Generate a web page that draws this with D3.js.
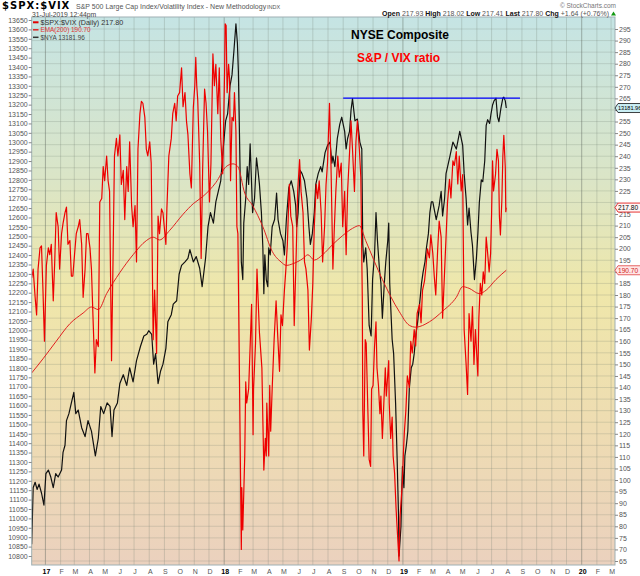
<!DOCTYPE html>
<html>
<head>
<meta charset="utf-8">
<script src="https://cdn.jsdelivr.net/npm/d3@7"></script>
<style>
  body { margin: 0; background: #fff; }
  svg text { font-family: "Liberation Sans", Arial, sans-serif; }
</style>
</head>
<body>
<svg id="chart" width="640" height="576"></svg>
<script>
// $NYA close
const nyaData = [
  ["2016-12-04",10863],["2016-12-07",11163],["2016-12-11",11192],["2016-12-15",11154],["2016-12-19",11182],["2016-12-24",11135],["2016-12-29",11070],
  ["2017-01-02",11238],["2017-01-07",11257],["2017-01-12",11220],["2017-01-17",11163],["2017-01-22",11238],["2017-01-27",11220],
  ["2017-02-03",11257],["2017-02-06",11351],["2017-02-10",11389],["2017-02-13",11520],["2017-02-18",11557],["2017-02-23",11614],["2017-02-28",11670],
  ["2017-03-04",11557],["2017-03-09",11576],["2017-03-16",11482],["2017-03-23",11435],["2017-03-29",11520],
  ["2017-04-05",11464],["2017-04-13",11332],["2017-04-19",11426],["2017-04-24",11595],["2017-04-30",11557],
  ["2017-05-07",11614],["2017-05-13",11595],["2017-05-17",11435],["2017-05-21",11576],["2017-05-28",11614],
  ["2017-06-02",11717],["2017-06-09",11764],["2017-06-16",11707],["2017-06-22",11801],["2017-06-29",11726],
  ["2017-07-06",11839],["2017-07-14",11914],["2017-07-21",11970],["2017-07-27",11979],["2017-07-31",11998],
  ["2017-08-06",11979],["2017-08-10",11820],["2017-08-14",11876],["2017-08-19",11717],["2017-08-24",11782],["2017-08-29",11820],
  ["2017-09-04",11904],["2017-09-08",12045],["2017-09-15",12083],["2017-09-19",12139],["2017-09-26",12157],
  ["2017-10-01",12298],["2017-10-06",12345],["2017-10-13",12364],["2017-10-19",12383],["2017-10-23",12429],["2017-10-30",12364],
  ["2017-11-05",12392],["2017-11-12",12330],["2017-11-17",12232],["2017-11-24",12383],["2017-11-29",12551],
  ["2017-12-04",12626],["2017-12-10",12570],["2017-12-15",12683],["2017-12-20",12739],["2017-12-25",12795],["2017-12-30",12964],
  ["2018-01-04",13114],["2018-01-08",13151],["2018-01-13",13301],["2018-01-17",13358],["2018-01-21",13489],["2018-01-25",13630],["2018-01-28",13527],["2018-01-30",13377],
  ["2018-02-03",12776],["2018-02-05",12364],["2018-02-08",12270],["2018-02-10",12570],["2018-02-14",12701],["2018-02-17",12870],["2018-02-20",12776],["2018-02-23",12992],["2018-02-26",12776],["2018-02-28",12626],
  ["2018-03-04",12701],["2018-03-08",12917],["2018-03-11",12851],["2018-03-14",12776],["2018-03-18",12626],["2018-03-21",12439],["2018-03-23",12195],["2018-03-25",12401],["2018-03-28",12270],["2018-03-31",12232],
  ["2018-04-02",12439],["2018-04-05",12401],["2018-04-09",12551],["2018-04-14",12589],["2018-04-18",12730],["2018-04-21",12589],["2018-04-26",12514],
  ["2018-05-01",12476],["2018-05-04",12401],["2018-05-08",12589],["2018-05-13",12758],["2018-05-18",12795],["2018-05-23",12739],["2018-05-27",12664],["2018-05-29",12551],
  ["2018-06-01",12626],["2018-06-05",12851],["2018-06-09",12833],["2018-06-14",12795],["2018-06-19",12701],["2018-06-23",12551],["2018-06-26",12457],["2018-06-30",12514],
  ["2018-07-04",12626],["2018-07-07",12776],["2018-07-12",12833],["2018-07-17",12870],["2018-07-20",12842],["2018-07-26",12945],["2018-07-31",12983],
  ["2018-08-05",13001],["2018-08-09",12889],["2018-08-11",12926],["2018-08-15",12870],["2018-08-20",13020],["2018-08-25",13095],["2018-08-29",13133],
  ["2018-09-04",13058],["2018-09-07",12964],["2018-09-10",13020],["2018-09-14",13058],["2018-09-17",13170],["2018-09-20",13232],["2018-09-25",13114],["2018-09-30",13123],
  ["2018-10-05",13001],["2018-10-09",12964],["2018-10-11",12458],["2018-10-13",12364],["2018-10-17",12439],["2018-10-20",12326],["2018-10-24",12026],["2018-10-28",11970],["2018-10-31",12270],
  ["2018-11-04",12401],["2018-11-07",12626],["2018-11-10",12476],["2018-11-14",12326],["2018-11-17",12251],["2018-11-20",12064],["2018-11-24",12251],["2018-11-27",12364],
  ["2018-12-01",12476],["2018-12-03",12570],["2018-12-05",12251],["2018-12-10",11951],["2018-12-13",11876],["2018-12-17",11614],["2018-12-20",11332],["2018-12-23",11014],["2018-12-24",10800],["2018-12-28",10957],["2018-12-30",11182],["2018-12-31",11276],
  ["2019-01-03",11163],["2019-01-05",11332],["2019-01-08",11389],["2019-01-11",11464],["2019-01-14",11689],["2019-01-18",11801],["2019-01-21",11820],["2019-01-24",11876],["2019-01-28",11989],["2019-01-31",12045],
  ["2019-02-04",12139],["2019-02-08",12251],["2019-02-11",12307],["2019-02-15",12364],["2019-02-18",12439],["2019-02-22",12514],["2019-02-25",12626],["2019-02-28",12683],
  ["2019-03-03",12683],["2019-03-10",12589],["2019-03-16",12664],["2019-03-20",12739],["2019-03-23",12608],["2019-03-27",12700],["2019-03-30",12833],
  ["2019-04-07",12926],["2019-04-13",13001],["2019-04-20",12964],["2019-04-27",13058],
  ["2019-05-03",12983],["2019-05-06",12833],["2019-05-10",12700],["2019-05-13",12560],["2019-05-16",12650],["2019-05-20",12520],["2019-05-23",12450],["2019-05-27",12270],["2019-05-31",12383],
  ["2019-06-03",12514],["2019-06-06",12680],["2019-06-10",12800],["2019-06-13",12790],["2019-06-17",12900],["2019-06-20",13090],["2019-06-23",13120],["2019-06-27",13100],["2019-06-30",13154],
  ["2019-07-03",13198],["2019-07-06",13220],["2019-07-10",13234],["2019-07-13",13136],["2019-07-16",13109],["2019-07-20",13180],["2019-07-24",13234],["2019-07-26",13240],["2019-07-29",13220],["2019-07-31",13181.96]
]

// $SPX:$VIX daily ratio, right axis
const ratioData = [
  ["2016-12-04",187.4],["2016-12-07",191.2],["2016-12-11",179],["2016-12-14",171.4],["2016-12-17",191.2],["2016-12-21",200.4],["2016-12-24",201.2],["2016-12-27",182.1],["2016-12-30",160],
  ["2017-01-03",192.8],["2017-01-07",200.4],["2017-01-10",197.4],["2017-01-13",201.9],["2017-01-17",177.5],["2017-01-20",194.3],["2017-01-23",215.6],["2017-01-27",209.5],["2017-01-30",191.2],
  ["2017-02-03",206.5],["2017-02-06",211],["2017-02-10",215.6],["2017-02-13",218],["2017-02-16",201.9],["2017-02-20",203.5],["2017-02-23",188.2],["2017-02-26",188.2],
  ["2017-03-02",198.9],["2017-03-05",206.5],["2017-03-09",209.5],["2017-03-12",212.6],["2017-03-16",201.9],["2017-03-19",179],["2017-03-23",191.2],["2017-03-26",206.5],["2017-03-29",206.5],
  ["2017-04-02",200.4],["2017-04-05",191.2],["2017-04-08",171.4],["2017-04-12",146.3],["2017-04-15",160.7],["2017-04-19",157.7],["2017-04-22",220.2],["2017-04-26",221.7],["2017-04-29",235.5],
  ["2017-05-02",229.4],["2017-05-06",240.1],["2017-05-09",229.4],["2017-05-12",224.8],["2017-05-16",151.6],["2017-05-19",194.3],["2017-05-22",240.1],["2017-05-26",247.7],["2017-05-29",240.1],
  ["2017-06-02",249.2],["2017-06-05",227.8],["2017-06-09",233.9],["2017-06-12",212.6],["2017-06-16",235.5],["2017-06-19",224.8],["2017-06-22",246.2],["2017-06-26",218.7],["2017-06-29",209.5],
  ["2017-07-03",218.7],["2017-07-06",194.3],["2017-07-09",243.1],["2017-07-13",258.4],["2017-07-16",263.7],["2017-07-19",262.9],["2017-07-23",256.8],["2017-07-26",243.1],["2017-07-29",240.1],
  ["2017-08-02",246.2],["2017-08-05",237],["2017-08-09",160.7],["2017-08-12",182.1],["2017-08-16",154.7],["2017-08-19",214.1],["2017-08-22",206.5],["2017-08-26",217.2],["2017-08-29",215.6],
  ["2017-09-02",206.5],["2017-09-04",201.9],["2017-09-06",217.2],["2017-09-10",240.1],["2017-09-15",247.7],["2017-09-18",258.4],["2017-09-22",262.9],["2017-09-25",255.3],["2017-09-28",266],
  ["2017-10-02",267.5],["2017-10-06",278.2],["2017-10-09",261.4],["2017-10-13",267.5],["2017-10-16",255.3],["2017-10-19",249.2],["2017-10-23",232.4],["2017-10-26",226.3],["2017-10-30",261],
  ["2017-11-02",270.5],["2017-11-04",282.7],["2017-11-06",270.5],["2017-11-08",264.4],["2017-11-12",237],["2017-11-15",195.8],["2017-11-18",233.9],["2017-11-22",269],["2017-11-25",262.9],["2017-11-28",250.7],
  ["2017-12-02",220.2],["2017-12-05",237],["2017-12-09",284.3],["2017-12-12",270.5],["2017-12-15",279.7],["2017-12-19",258.4],["2017-12-22",278.2],["2017-12-25",247.7],["2017-12-29",232.4],
  ["2018-01-02",278],["2018-01-03",297.2],["2018-01-05",296.5],["2018-01-07",267.5],["2018-01-10",279.7],["2018-01-12",273.6],["2018-01-14",229.4],["2018-01-17",256.8],["2018-01-20",255.3],["2018-01-22",267.5],["2018-01-25",250.7],["2018-01-27",209.5],["2018-01-29",206.5],
  ["2018-02-01",148.5],["2018-02-05",70],["2018-02-06",96.7],["2018-02-08",78.4],["2018-02-12",110.4],["2018-02-14",142.4],["2018-02-16",133.3],["2018-02-20",139.4],["2018-02-26",176],["2018-02-28",139.4],
  ["2018-03-01",119.6],["2018-03-02",139.4],["2018-03-06",159.2],["2018-03-09",191.2],["2018-03-12",174.5],["2018-03-14",163.8],["2018-03-19",148.5],["2018-03-21",125.7],["2018-03-23",104.3],["2018-03-26",118],["2018-03-28",110.4],["2018-03-29",133.3],
  ["2018-04-02",110.4],["2018-04-04",140.9],["2018-04-06",121.1],["2018-04-09",139.4],["2018-04-13",160.7],["2018-04-17",177.5],["2018-04-20",163.8],["2018-04-24",147],["2018-04-27",171.4],["2018-04-30",166.8],
  ["2018-05-04",182.1],["2018-05-07",191.2],["2018-05-10",201.9],["2018-05-14",227.8],["2018-05-17",214.1],["2018-05-21",209.5],["2018-05-24",166.8],["2018-05-28",197.4],["2018-05-31",224.8],
  ["2018-06-04",238.5],["2018-06-07",224.8],["2018-06-11",215.6],["2018-06-14",194.3],["2018-06-17",191.2],["2018-06-21",182.1],["2018-06-24",156.2],["2018-06-28",169.9],
  ["2018-07-01",185.1],["2018-07-04",209.5],["2018-07-08",227.8],["2018-07-11",221.7],["2018-07-14",229.4],["2018-07-18",215.6],["2018-07-21",194.3],["2018-07-25",209.5],["2018-07-28",227.8],["2018-07-31",237],
  ["2018-08-04",262.9],["2018-08-07",237],["2018-08-11",191.2],["2018-08-14",209.5],["2018-08-17",224.8],["2018-08-21",240.1],["2018-08-24",230.9],["2018-08-28",237],["2018-08-31",209.5],
  ["2018-09-04",224.8],["2018-09-07",197.4],["2018-09-10",224.8],["2018-09-14",241.6],["2018-09-17",255.3],["2018-09-20",243.1],["2018-09-24",224.8],["2018-09-27",246.2],["2018-09-30",255.3],
  ["2018-10-04",243.1],["2018-10-07",230.9],["2018-10-10",179],["2018-10-11",130.3],["2018-10-13",110.4],["2018-10-16",160.7],["2018-10-18",159.2],["2018-10-21",133.3],["2018-10-24",108.9],["2018-10-27",105.9],["2018-10-29",139.4],
  ["2018-11-01",140.9],["2018-11-04",157.7],["2018-11-07",168.4],["2018-11-09",148.5],["2018-11-12",140.9],["2018-11-15",128.7],["2018-11-17",136.3],["2018-11-20",118],["2018-11-23",133.3],["2018-11-26",148.5],["2018-11-28",136.3],
  ["2018-12-03",151.6],["2018-12-04",133.3],["2018-12-07",118],["2018-12-10",127.2],["2018-12-12",110.4],["2018-12-15",102.8],["2018-12-18",87.6],["2018-12-20",79.9],["2018-12-24",65],["2018-12-26",84],["2018-12-28",90],["2018-12-31",100],
  ["2019-01-02",112],["2019-01-04",121],["2019-01-07",130],["2019-01-10",145],["2019-01-14",140],["2019-01-17",160],["2019-01-20",155],["2019-01-24",165],["2019-01-27",158],["2019-01-30",172],
  ["2019-02-04",176],["2019-02-07",168],["2019-02-10",182],["2019-02-14",186],["2019-02-17",192],["2019-02-20",200],["2019-02-24",196],["2019-02-27",206],
  ["2019-03-03",198],["2019-03-06",188],["2019-03-09",180],["2019-03-13",200],["2019-03-16",212],["2019-03-20",205],["2019-03-23",170],["2019-03-27",190],["2019-03-30",205],
  ["2019-04-02",220],["2019-04-06",230],["2019-04-09",222],["2019-04-13",238],["2019-04-16",236],["2019-04-20",242],["2019-04-23",228],["2019-04-26",240],["2019-04-30",225],
  ["2019-05-03",232],["2019-05-06",165],["2019-05-10",150],["2019-05-13",137],["2019-05-16",172],["2019-05-20",160],["2019-05-23",175],["2019-05-26",150],["2019-05-29",165],
  ["2019-06-03",145],["2019-06-05",170],["2019-06-08",185],["2019-06-11",180],["2019-06-14",190],["2019-06-17",185],["2019-06-20",205],["2019-06-23",198],["2019-06-26",190],["2019-06-29",198],
  ["2019-07-01",215],["2019-07-03",238],["2019-07-05",225],["2019-07-09",232],["2019-07-12",243],["2019-07-15",238],["2019-07-17",214],["2019-07-19",206],["2019-07-22",221],["2019-07-24",240],["2019-07-26",249],["2019-07-29",235],["2019-07-30",216],["2019-07-31",217.8]
]

// EMA(200) of the ratio
const emaData = [
  ["2016-12-04",146.3],["2016-12-27",152.4],["2017-01-23",160],["2017-02-20",167.6],["2017-03-19",172.2],["2017-04-05",174.8],["2017-04-19",173.7],
  ["2017-05-06",180.6],["2017-06-02",189.7],["2017-06-29",197.4],["2017-07-26",203.5],["2017-08-09",205],["2017-08-22",203.8],["2017-09-12",208],
  ["2017-10-09",214.9],["2017-10-30",219.5],["2017-11-18",222.5],["2017-12-15",228.6],["2018-01-05",235.5],["2018-01-19",236.7],["2018-01-29",235.5],
  ["2018-02-12",224],["2018-02-28",218.7],["2018-03-21",209.5],["2018-04-09",198.9],["2018-04-27",194.3],["2018-05-08",192.8],["2018-05-21",193.5],
  ["2018-06-11",195.8],["2018-06-21",197.4],["2018-07-04",195.1],["2018-07-21",197.4],["2018-08-11",201.9],["2018-08-31",205.7],["2018-09-20",208.8],
  ["2018-10-04",210],["2018-10-17",203.5],["2018-11-20",186.7],["2018-12-24",173],["2019-01-14",166.9],["2019-01-27",166.1],["2019-02-24",168.4],
  ["2019-03-23",173],["2019-04-20",179],["2019-05-03",183.6],["2019-05-16",182.9],["2019-06-06",180.6],["2019-06-20",182.1],["2019-07-10",186.7],["2019-07-31",190.7]
]

// blue resistance line on the $NYA scale
const trendData = [["2018-09-01",13235],["2019-08-28",13235]]

const nyaTicks = d3.range(10800, 13651, 50)
const ratioTicks = d3.range(65, 296, 5)
const monthLetters = ["J","F","M","A","M","J","J","A","S","O","N","D"]
const legendItems = [
  {label: "$SPX:$VIX (Daily) 217.80", color: "#e00000", text: "#333", size: 7.2, w: 2},
  {label: "EMA(200) 190.70", color: "#e02020", text: "#e03030", size: 6.4, w: 1.5},
  {label: "$NYA 13181.96", color: "#333", text: "#444", size: 6.4, w: 1.5}
]
const quote = [["Open","217.93"],["High","218.02"],["Low","217.41"],["Last","217.80"],["Chg","+1.64 (+0.76%)"]]

const width = 640, height = 576
const plot = {left: 31.7, right: 615, top: 17, bottom: 565}
const parse = d3.timeParse("%Y-%m-%d")
const toPts = arr => arr.map(([d, v]) => ({date: parse(d), v}))
const nya = toPts(nyaData), ratio = toPts(ratioData), ema = toPts(emaData), trend = toPts(trendData)

const x = d3.scaleTime()
  .domain([parse("2016-12-04"), parse("2020-03-09")])
  .range([plot.left, plot.right])
const yRatio = d3.scaleLinear().domain([65, 295]).range([561, 29])
const yNya = d3.scaleLinear().domain([10800, 13650]).range([556, 20])

const lastNya = nya[nya.length - 1], lastRatio = ratio[ratio.length - 1], lastEma = ema[ema.length - 1]
const tagYs = [yNya(lastNya.v), yRatio(lastRatio.v), yRatio(lastEma.v)]

const svg = d3.select("#chart")
const defs = svg.append("defs")
const grad = defs.append("linearGradient").attr("id", "bg").attr("x1", 0).attr("y1", 0).attr("x2", 0).attr("y2", 1)
grad.selectAll("stop")
  .data([[0, "#c5e4e4"], [0.3, "#dbe5c6"], [0.5, "#efe7aa"], [0.75, "#eedcb2"], [1, "#ebd1be"]])
  .join("stop").attr("offset", d => d[0]).attr("stop-color", d => d[1])
defs.append("clipPath").attr("id", "clip").append("rect")
  .attr("x", plot.left).attr("y", plot.top)
  .attr("width", plot.right - plot.left).attr("height", plot.bottom - plot.top)

svg.append("rect")
  .attr("x", plot.left).attr("y", plot.top)
  .attr("width", plot.right - plot.left).attr("height", plot.bottom - plot.top)
  .attr("fill", "url(#bg)")

// grid
const months = d3.timeMonth.range(x.domain()[0], x.domain()[1])
const grid = svg.append("g")
grid.selectAll(".h").data(ratioTicks).join("line")
  .attr("x1", plot.left).attr("x2", plot.right)
  .attr("y1", d => yRatio(d)).attr("y2", d => yRatio(d))
  .attr("stroke", "rgba(110,125,110,0.22)")
grid.selectAll(".v").data(months).join("line")
  .attr("x1", d => x(d)).attr("x2", d => x(d))
  .attr("y1", plot.top).attr("y2", plot.bottom)
  .attr("stroke", d => d.getMonth() === 0 ? "rgba(90,100,90,0.45)" : "rgba(110,125,110,0.25)")

// series
const lines = svg.append("g").attr("clip-path", "url(#clip)")
const lineNya = d3.line().x(d => x(d.date)).y(d => yNya(d.v))
const lineRatio = d3.line().x(d => x(d.date)).y(d => yRatio(d.v))
const lineEma = d3.line().x(d => x(d.date)).y(d => yRatio(d.v)).curve(d3.curveMonotoneX)

lines.append("path").datum(nya).attr("d", lineNya)
  .attr("fill", "none").attr("stroke", "#111").attr("stroke-width", 1.2).attr("stroke-linejoin", "round")
lines.append("path").datum(ema).attr("d", lineEma)
  .attr("fill", "none").attr("stroke", "#e02020").attr("stroke-width", 1)
lines.append("path").datum(ratio).attr("d", lineRatio)
  .attr("fill", "none").attr("stroke", "#ee0000").attr("stroke-width", 1.2).attr("stroke-linejoin", "round")
lines.append("path").datum(trend).attr("d", lineNya)
  .attr("fill", "none").attr("stroke", "#0000ff").attr("stroke-width", 1.3)

// frame
svg.append("rect")
  .attr("x", plot.left).attr("y", plot.top)
  .attr("width", plot.right - plot.left).attr("height", plot.bottom - plot.top)
  .attr("fill", "none").attr("stroke", "#9fb0b4")

// axes
const styleAxis = g => {
  g.select(".domain").remove()
  g.selectAll(".tick line").attr("stroke", "#888")
  g.selectAll(".tick text").attr("fill", "#555").style("font-size", "7px")
}
svg.append("g").attr("transform", `translate(${plot.left},0)`)
  .call(d3.axisLeft(yNya).tickValues(nyaTicks).tickSize(3).tickPadding(1).tickFormat(d3.format("d")))
  .call(styleAxis)
// right labels hidden under a value tag are left out, as the tags cover them
const rightAxis = svg.append("g").attr("transform", `translate(${plot.right},0)`)
  .call(d3.axisRight(yRatio).tickValues(ratioTicks).tickSize(3).tickPadding(1).tickFormat(d3.format("d")))
  .call(styleAxis)
rightAxis.selectAll(".tick text")
  .filter(d => tagYs.some(t => Math.abs(yRatio(d) - t) < 6))
  .remove()

svg.append("g").selectAll("text").data(months).join("text")
  .attr("x", d => x(d) + 1).attr("y", 574)
  .attr("text-anchor", "middle")
  .style("font-size", "7px")
  .style("font-weight", d => d.getMonth() === 0 ? "bold" : "normal")
  .attr("fill", d => d.getMonth() === 0 ? "#000" : "#555")
  .text(d => d.getMonth() === 0 ? d3.timeFormat("%y")(d) : monthLetters[d.getMonth()])

// header
svg.append("text").attr("x", 2).attr("y", 8.5)
  .style("font-family", "'DejaVu Sans', sans-serif").style("font-weight", "bold")
  .style("font-size", "10px").style("letter-spacing", "1px")
  .text("$SPX:$VIX")
svg.append("text").attr("x", 76).attr("y", 9).attr("fill", "#555").style("font-size", "7px")
  .text("S&P 500 Large Cap Index/Volatility Index - New Methodology")
svg.append("text").attr("x", 267).attr("y", 9).attr("fill", "#555").style("font-size", "5.5px")
  .text("INDX")
svg.append("text").attr("x", 32).attr("y", 16.8).attr("fill", "#444").style("font-size", "6.8px")
  .text("31-Jul-2019 12:44pm")
svg.append("text").attr("x", 616).attr("y", 7.5).attr("text-anchor", "end").attr("fill", "#777")
  .style("font-size", "6.5px").text("\u00a9 StockCharts.com")

const q = svg.append("text").attr("x", 609).attr("y", 16).attr("text-anchor", "end").style("font-size", "7px")
quote.forEach(([k, v], i) => {
  q.append("tspan").style("font-weight", "bold").attr("fill", "#111").text((i ? "  " : "") + k + " ")
  q.append("tspan").attr("fill", "#555").text(v)
})
svg.append("path").attr("d", "M611,15.5 L616,15.5 L613.5,11.5 Z").attr("fill", "#119911")

// legend
const leg = svg.append("g")
legendItems.forEach((d, i) => {
  const yy = 22.3 + i * 7.5
  leg.append("line").attr("x1", 33).attr("x2", 38.5).attr("y1", yy).attr("y2", yy)
    .attr("stroke", d.color).attr("stroke-width", d.w)
  leg.append("text").attr("x", 40.5).attr("y", yy + 2.3).attr("fill", d.text)
    .style("font-size", d.size + "px").text(d.label)
})

// annotations
svg.append("text").attr("x", 351).attr("y", 39).style("font-size", "12px").style("font-weight", "bold")
  .attr("fill", "#000").text("NYSE Composite")
svg.append("text").attr("x", 357).attr("y", 62).style("font-size", "12px").style("font-weight", "bold")
  .attr("fill", "#ff0000").text("S&P / VIX ratio")

// last-value tags on the right axis
const tag = (yy, label, stroke, fill, color, size) => {
  const g = svg.append("g")
  g.append("path")
    .attr("d", `M${plot.right},${yy} L${plot.right + 3},${yy - 4.5} L${width + 2},${yy - 4.5} L${width + 2},${yy + 4.5} L${plot.right + 3},${yy + 4.5} Z`)
    .attr("fill", fill).attr("stroke", stroke).attr("stroke-width", 0.8)
  g.append("text").attr("x", plot.right + 3).attr("y", yy + 2.3)
    .attr("fill", color).style("font-size", size + "px").text(label)
}
tag(tagYs[0], "13181.96", "#111", "#c9eef4", "#000", 5.6)
tag(tagYs[1], d3.format(".2f")(lastRatio.v), "#e00000", "#fff6f6", "#000", 6.6)
tag(tagYs[2], d3.format(".2f")(lastEma.v), "#e04040", "#ffe6e6", "#d02020", 6.6)
</script>
</body>
</html>
